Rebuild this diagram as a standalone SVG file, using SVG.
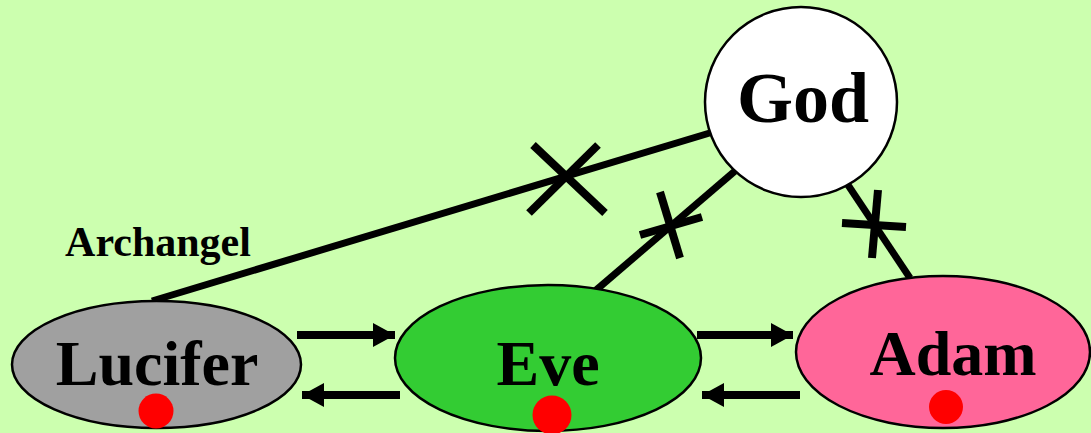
<svg xmlns="http://www.w3.org/2000/svg" width="1091" height="433" viewBox="0 0 1091 433">
<style>
.node{stroke:#000;stroke-width:2.5}
.lbl{font-family:"Liberation Serif","Times New Roman",serif;font-weight:bold;fill:#000;text-anchor:middle}
.edge{stroke:#000;stroke-width:7;fill:none}
.x{stroke:#000;stroke-width:8;fill:none}
.arr{stroke:#000;stroke-width:8;fill:none;marker-end:url(#ah)}
.dot{fill:#ff0000}
</style>
<defs>
<marker id="ah" markerUnits="userSpaceOnUse" markerWidth="24" markerHeight="26" refX="22" refY="12" orient="auto">
<path d="M0,0 L22,12 L0,24 Z" fill="#000"/>
</marker>
</defs>
<rect x="0" y="0" width="1091" height="433" fill="#ccffaf"/>
<g id="connectors">
<line class="edge" x1="713" y1="132" x2="152" y2="301"/>
<line class="edge" x1="735" y1="171" x2="595" y2="291"/>
<line class="edge" x1="848" y1="185" x2="910" y2="278"/>
<line class="x" x1="533" y1="145" x2="605" y2="213"/>
<line class="x" x1="598" y1="145" x2="529" y2="213"/>
<line class="x" x1="660" y1="192" x2="680" y2="258"/>
<line class="x" x1="640" y1="235" x2="702" y2="217"/>
<line class="x" x1="878" y1="190" x2="872" y2="258"/>
<line class="x" x1="842" y1="223" x2="906" y2="227"/>
<line class="arr" x1="297" y1="335" x2="395" y2="335"/>
<line class="arr" x1="400" y1="395" x2="302" y2="395"/>
<line class="arr" x1="697" y1="335" x2="793" y2="335"/>
<line class="arr" x1="800" y1="395" x2="702" y2="395"/>
</g>
<g id="god">
<ellipse class="node" cx="801" cy="102" rx="96" ry="95" fill="#ffffff"/>
<text class="lbl" x="803" y="122" font-size="72">God</text>
</g>
<g id="lucifer">
<ellipse class="node" cx="156.5" cy="364.5" rx="144.5" ry="63.5" fill="#a0a0a0"/>
<text class="lbl" x="157" y="385" font-size="64">Lucifer</text>
<circle class="dot" cx="156" cy="411" r="17.5"/>
</g>
<g id="eve">
<ellipse class="node" cx="548" cy="358" rx="153" ry="73" fill="#33cc33"/>
<text class="lbl" x="548" y="385" font-size="64">Eve</text>
<circle class="dot" cx="552" cy="415" r="19.5"/>
</g>
<g id="adam">
<ellipse class="node" cx="943" cy="352" rx="147" ry="76" fill="#ff6699"/>
<text class="lbl" x="953" y="375" font-size="64">Adam</text>
<circle class="dot" cx="946" cy="407" r="17"/>
</g>
<g id="archangel">
<text class="lbl" x="158" y="256" font-size="42">Archangel</text>
</g>
</svg>
